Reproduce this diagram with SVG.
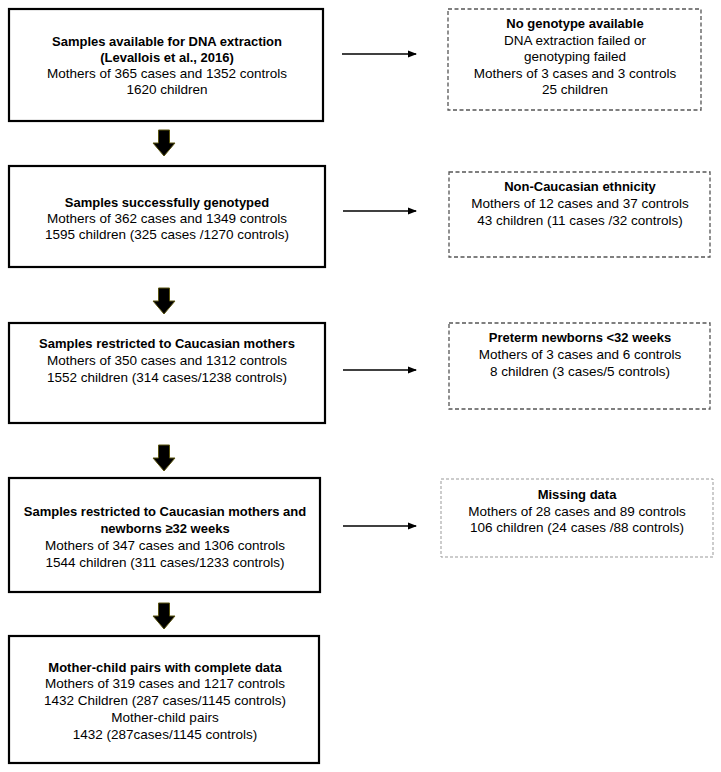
<svg xmlns="http://www.w3.org/2000/svg" width="721" height="772" viewBox="0 0 721 772">
<defs>
<style>
.main{fill:#fff;stroke:#000;stroke-width:2.2}
.side{fill:#fff;stroke:#555;stroke-width:1.3;stroke-dasharray:4,2.5}
.side2{fill:#fff;stroke:#999;stroke-width:1;stroke-dasharray:3,2}
text{font-family:"Liberation Sans",Arial,sans-serif;font-size:13.5px;fill:#000;text-anchor:middle}
.b{font-weight:bold;font-size:13px}
.conn line{stroke:#000;stroke-width:1.5}
.blk{fill:#000;stroke:#5a5410;stroke-width:1}
</style>
<marker id="ah" markerWidth="9" markerHeight="8" refX="8" refY="4" orient="auto" markerUnits="userSpaceOnUse">
<path d="M0,0.5 L9,4 L0,7.5 z" fill="#000"/>
</marker>
<path id="down" d="M-5.5,0 H5.5 V13 H11 L0,26 L-11,13 H-5.5 Z"/>
</defs>

<g id="box1">
<rect class="main" x="9" y="9" width="314" height="112"/>
<text x="167" y="46" class="b">Samples available for DNA extraction</text>
<text x="167" y="62" class="b">(Levallois et al., 2016)</text>
<text x="167" y="78">Mothers of 365 cases and 1352 controls</text>
<text x="167" y="94">1620 children</text>
</g>

<g id="side1">
<rect class="side" x="448" y="9" width="253" height="101"/>
<text x="575" y="28" class="b">No genotype available</text>
<text x="575" y="45">DNA extraction failed or</text>
<text x="575" y="61">genotyping failed</text>
<text x="575" y="78">Mothers of 3 cases and 3 controls</text>
<text x="575" y="94">25 children</text>
</g>

<g id="box2">
<rect class="main" x="9" y="166" width="316" height="101"/>
<text x="167" y="207" class="b">Samples successfully genotyped</text>
<text x="167" y="223">Mothers of 362 cases and 1349 controls</text>
<text x="167" y="239">1595 children (325 cases /1270 controls)</text>
</g>

<g id="side2">
<rect class="side" x="449" y="172" width="261" height="85"/>
<text x="580" y="191" class="b">Non-Caucasian ethnicity</text>
<text x="580" y="208">Mothers of 12 cases and 37 controls</text>
<text x="580" y="225">43 children (11 cases /32 controls)</text>
</g>

<g id="box3">
<rect class="main" x="9" y="323" width="316" height="100"/>
<text x="167" y="348" class="b">Samples restricted to Caucasian mothers</text>
<text x="167" y="365">Mothers of 350 cases and 1312 controls</text>
<text x="167" y="382">1552 children (314 cases/1238 controls)</text>
</g>

<g id="side3">
<rect class="side" x="449" y="323" width="261" height="86"/>
<text x="580" y="342" class="b">Preterm newborns &lt;32 weeks</text>
<text x="580" y="359">Mothers of 3 cases and 6 controls</text>
<text x="580" y="376">8 children (3 cases/5 controls)</text>
</g>

<g id="box4">
<rect class="main" x="9" y="478" width="311" height="114"/>
<text x="165" y="516" class="b">Samples restricted to Caucasian mothers and</text>
<text x="165" y="533" class="b">newborns ≥32 weeks</text>
<text x="165" y="550">Mothers of 347 cases and 1306 controls</text>
<text x="165" y="567">1544 children (311 cases/1233 controls)</text>
</g>

<g id="side4">
<rect class="side2" x="441" y="479" width="272" height="78"/>
<text x="577" y="499" class="b">Missing data</text>
<text x="577" y="516">Mothers of 28 cases and 89 controls</text>
<text x="577" y="532">106 children (24 cases /88 controls)</text>
</g>

<g id="box5">
<rect class="main" x="9" y="636" width="310" height="127"/>
<text x="165" y="672" class="b">Mother-child pairs with complete data</text>
<text x="165" y="688">Mothers of 319 cases and 1217 controls</text>
<text x="165" y="705">1432 Children (287 cases/1145 controls)</text>
<text x="165" y="722">Mother-child pairs</text>
<text x="165" y="739">1432 (287cases/1145 controls)</text>
</g>

<g id="connectors" class="conn">
<line x1="342" y1="54" x2="416" y2="54" marker-end="url(#ah)"/>
<line x1="343" y1="211" x2="416" y2="211" marker-end="url(#ah)"/>
<line x1="343" y1="370" x2="416" y2="370" marker-end="url(#ah)"/>
<line x1="343" y1="526" x2="416" y2="526" marker-end="url(#ah)"/>
<use href="#down" class="blk" x="164" y="130"/>
<use href="#down" class="blk" x="164" y="288"/>
<use href="#down" class="blk" x="164" y="445"/>
<use href="#down" class="blk" x="164" y="603"/>
</g>
</svg>
